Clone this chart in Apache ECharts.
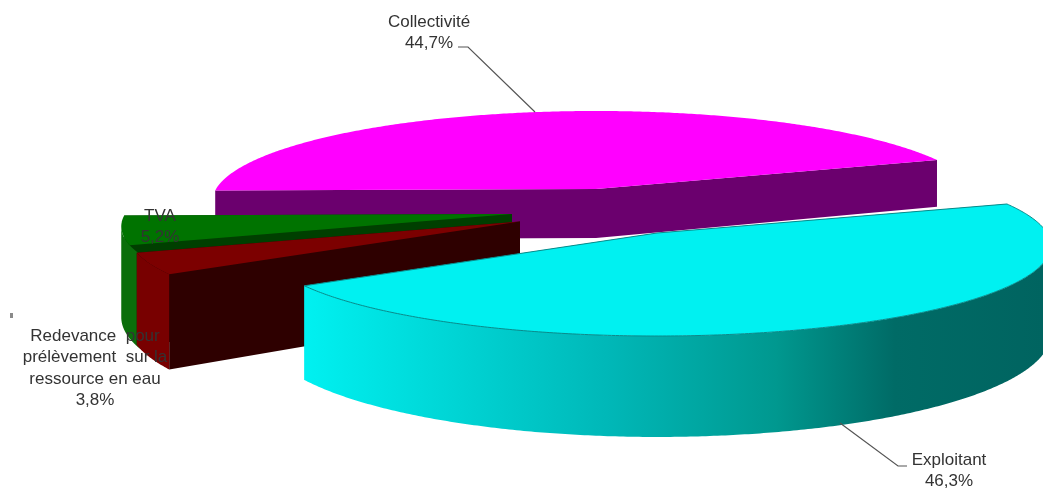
<!DOCTYPE html>
<html>
<head>
<meta charset="utf-8">
<style>html,body{margin:0;padding:0;background:#fff;overflow:hidden}#c{width:1043px;height:488px}</style>
<script src="https://cdn.jsdelivr.net/npm/echarts@6/dist/echarts.min.js"></script>
</head>
<body>
<div id="c"></div>
<script>
// Data
var sliceNames = ['Collectivité', 'TVA', 'Redevance pour prélèvement sur la ressource en eau', 'Exploitant'];
var sliceValues = [44.7, 5.2, 3.8, 46.3];

// Label text, one list per line block
var labelLines = [
  ['Collectivité'],
  ['TVA'],
  ['Redevance  pour', 'prélèvement  sur la', 'ressource en eau'],
  ['Exploitant']
];

// Drawing geometry (kept apart from the values)
var startAngle = 20, persp = 0.138, flat = 88.8;
var apexX = [596, 512, 520, 657];
var apexY = [189, 214, 221.5, 233];
var radius = [380, 387, 388, 390];
var thickness = [49, 89, 88, 87];
var wallOvershoot = [0, 5.5, 0, 0];
var topColor = ['#ff00ff', '#007300', '#7c0000', '#00f1f1'];
var rimColor = ['#6b006e', '#0b6e0b', '#780000', null];
var faceColor = ['#6b006e', '#003f00', '#2e0000', '#00f1f1'];
var labelX = [429, 160, 95, 949];
var labelY = [22, 216, 336, 460];
var labelGap = 21.5;
var labelFontSize = 17;
var leaders = [
  [[458, 47], [468, 47], [535, 112]],
  null, null,
  [[840, 423], [898, 466], [907, 466]]
];
var rimStops = [
  [0, '#00f1f1'], [0.41, '#00b8b8'], [0.64, '#00988f'], [0.8, '#006b66'], [1, '#006460']
];
var rimGradientFrom = 303, rimGradientTo = 1043;

var total = sliceValues.reduce(function (a, b) { return a + b; }, 0);
var edgeAngle = Math.asin(persp) * 180 / Math.PI;

function sliceRange(i) {
  var a = startAngle;
  for (var k = 0; k < i; k++) a += sliceValues[k] / total * 360;
  return [a, a + sliceValues[i] / total * 360];
}
function pt(i, deg, down) {
  var t = deg * Math.PI / 180, w = 1 + persp * Math.sin(t);
  return [
    apexX[i] + radius[i] * Math.cos(t) / w,
    apexY[i] - flat * Math.sin(t) / w + (down ? thickness[i] / w : 0)
  ];
}
function arc(i, from, to, down) {
  var pts = [], n = Math.max(2, Math.ceil(to - from) * 2);
  for (var s = 0; s <= n; s++) pts.push(pt(i, from + (to - from) * s / n, down));
  return pts;
}
function percentText(v) { return v.toFixed(1).replace('.', ',') + '%'; }

function renderSlice(params, api) {
  var i = params.dataIndex, r = sliceRange(i);
  var ax = apexX[i], ay = apexY[i], h = thickness[i];
  var rimFill = rimColor[i] || {
    type: 'linear', global: true, x: rimGradientFrom, y: 0, x2: rimGradientTo, y2: 0,
    colorStops: rimStops.map(function (c) { return { offset: c[0], color: c[1] }; })
  };
  var topStroke = i === 3 ? { stroke: '#0a8a8a', lineWidth: 1 } : {};
  var kids = [
    { type: 'polygon', shape: { points: [[ax, ay], pt(i, r[0], false), pt(i, r[0], true), [ax, ay + h]] }, style: { fill: faceColor[i] } },
    { type: 'polygon', shape: { points: [[ax, ay], pt(i, r[1], false), pt(i, r[1], true), [ax, ay + h]] }, style: { fill: faceColor[i] } }
  ];
  // only the part of the rim that faces the viewer gets a wall
  var from = Math.max(r[0], 180 + edgeAngle), to = Math.min(r[1] + wallOvershoot[i], 360 - edgeAngle);
  if (to > from) {
    kids.push({
      type: 'polygon',
      shape: { points: arc(i, from, to, false).concat(arc(i, from, to, true).reverse()) },
      style: { fill: rimFill }
    });
  }
  kids.push({
    type: 'polygon',
    shape: { points: [[ax, ay]].concat(arc(i, r[0], r[1], false)) },
    style: Object.assign({ fill: topColor[i] }, topStroke)
  });
  return { type: 'group', children: kids };
}

function renderLabel(params, api) {
  var i = params.dataIndex, kids = [];
  var lines = labelLines[i].concat([percentText(sliceValues[i])]);
  lines.forEach(function (t, k) {
    kids.push({
      type: 'text',
      style: {
        text: t, x: labelX[i], y: labelY[i] + k * labelGap,
        textAlign: 'center', textVerticalAlign: 'middle',
        fontFamily: 'Liberation Sans, Arial, sans-serif', fontSize: labelFontSize, fill: '#333333'
      }
    });
  });
  if (leaders[i]) {
    kids.push({
      type: 'polyline', shape: { points: leaders[i] },
      style: { stroke: '#555555', lineWidth: 1.2, fill: null }
    });
  }
  return { type: 'group', children: kids };
}

var chart = echarts.init(document.getElementById('c'));
chart.setOption({
  animation: false,
  backgroundColor: '#ffffff',
  graphic: [{ type: 'rect', shape: { x: 10, y: 313, width: 3, height: 5 }, style: { fill: '#8a8a8a' } }],
  series: [
    {
      type: 'custom', coordinateSystem: 'none', silent: true, z: 2,
      data: sliceValues.map(function (v, i) { return { name: sliceNames[i], value: v }; }),
      renderItem: renderSlice
    },
    {
      type: 'custom', coordinateSystem: 'none', silent: true, z: 3,
      data: sliceValues.map(function (v, i) { return { name: sliceNames[i], value: v }; }),
      renderItem: renderLabel
    }
  ]
});
</script>
</body>
</html>
